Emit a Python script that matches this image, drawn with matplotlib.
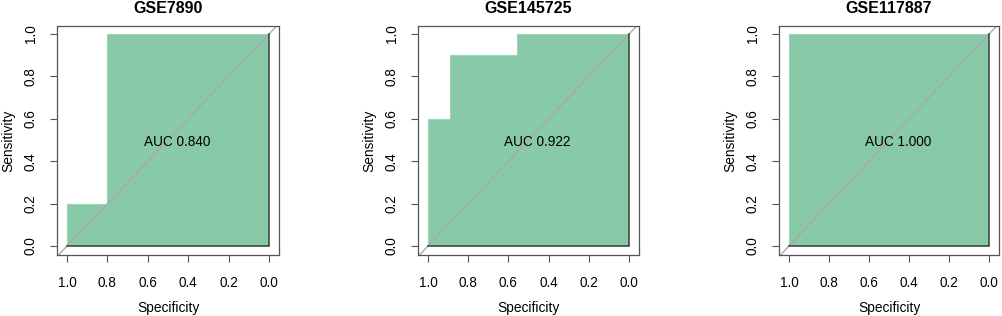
import matplotlib
matplotlib.use("Agg")
import matplotlib.pyplot as plt

plt.rcParams['font.family'] = ['Liberation Sans', 'DejaVu Sans']

titles = ["GSE7890", "GSE145725", "GSE117887"]
auc_labels = ["AUC 0.840", "AUC 0.922", "AUC 1.000"]
# ROC step curves: specificity (x, reversed axis) and sensitivity (y)
spec_1 = [1.0, 1.0, 0.8, 0.8, 0.0]
sens_1 = [0.0, 0.2, 0.2, 1.0, 1.0]
spec_2 = [1.0, 1.0, 0.889, 0.889, 0.556, 0.556, 0.0]
sens_2 = [0.0, 0.6, 0.6, 0.9, 0.9, 1.0, 1.0]
spec_3 = [1.0, 1.0, 0.0]
sens_3 = [0.0, 1.0, 1.0]
specs = [spec_1, spec_2, spec_3]
senss = [sens_1, sens_2, sens_3]
ticks = [1.0, 0.8, 0.6, 0.4, 0.2, 0.0]
tick_labels = ["1.0", "0.8", "0.6", "0.4", "0.2", "0.0"]
ytick_labels = ["0.0", "0.2", "0.4", "0.6", "0.8", "1.0"]

W, H = 1003, 316
fig = plt.figure(figsize=(W / 100, H / 100), dpi=100)

boxes = [(57, 279), (418, 639), (779, 999)]
top_px, bot_px = 26, 255
fill_color = "#88C9A8"
spine_color = "#555555"

for i in range(3):
    l, r = boxes[i]
    ax = fig.add_axes([l / W, (H - bot_px) / H, (r - l) / W, (bot_px - top_px) / H])
    x = specs[i]
    y = senss[i]
    ax.fill_between(x, y, 0, color=fill_color, linewidth=0, zorder=1)
    # thin lighter outline on the curve
    ax.plot(x, y, color="#9ed4b8", lw=0.8, zorder=2)
    ax.plot([1.2, -0.2], [-0.2, 1.2], color="#AAAAAA", lw=1.0, zorder=2.5)
    # dark edges along the bottom and right of the polygon
    ax.plot([x[0], x[-1], x[-1]], [0.0, 0.0, y[-1]], color="#2f3f36", lw=1.1,
            zorder=3, solid_joinstyle="miter")
    ax.set_xlim(1.0495, -0.0495)
    ax.set_ylim(-0.042, 1.038)
    ax.set_xticks(ticks)
    ax.set_xticklabels(tick_labels)
    ax.set_yticks([0.0, 0.2, 0.4, 0.6, 0.8, 1.0])
    ax.set_yticklabels(ytick_labels, rotation=90, va="center")
    ax.tick_params(axis="both", length=5, width=0.8, color=spine_color,
                   labelsize=9.8, labelcolor="black")
    ax.tick_params(axis="x", pad=10)
    ax.tick_params(axis="y", pad=9)
    for s in ax.spines.values():
        s.set_color(spine_color)
        s.set_linewidth(0.9)
    ax.set_title(titles[i], fontsize=11.5, fontweight="bold", pad=9.5)
    ax.set_xlabel("Specificity", fontsize=9.9, labelpad=8)
    ax.set_ylabel("Sensitivity", fontsize=9.9, labelpad=6)
    ax.text(0.455, 0.493, auc_labels[i], ha="center", va="center", fontsize=9.8, zorder=4)

fig.savefig("out.png", dpi=100)
